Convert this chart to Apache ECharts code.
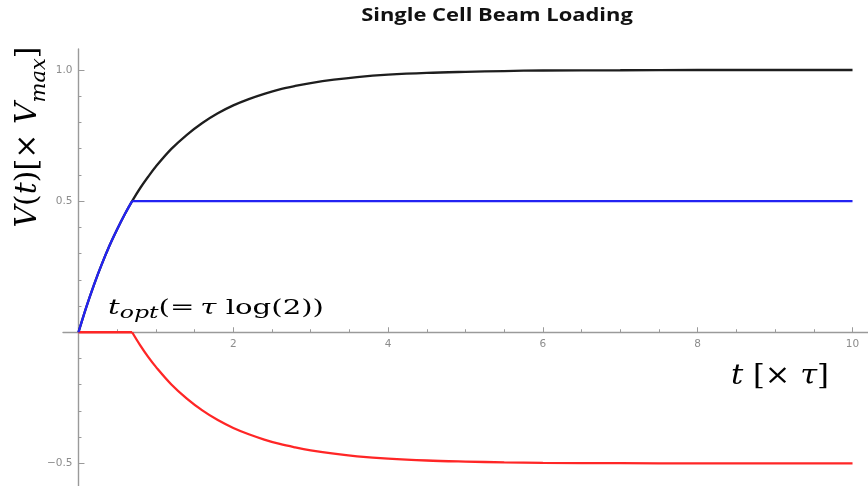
<!DOCTYPE html>
<html>
<head>
<meta charset="utf-8">
<script src="https://cdn.jsdelivr.net/npm/echarts@6/dist/echarts.min.js"></script>
<style>html,body{margin:0;padding:0;background:#fff}#c{width:868px;height:486px}</style>
</head>
<body>
<div id="c"></div>
<script>
// ---- data ----
const tTotal = [0, 0.1, 0.2, 0.3, 0.4, 0.5, 0.6, 0.693, 0.8, 0.9, 1.0, 1.2, 1.4, 1.6, 1.8, 2.0, 2.2, 2.4, 2.6, 2.8, 3.0, 3.3, 3.6, 4.0, 4.5, 5.0, 5.5, 6, 7, 8, 9, 10];
const vTotal = [0, 0.095, 0.181, 0.259, 0.330, 0.393, 0.451, 0.5, 0.551, 0.593, 0.632, 0.699, 0.753, 0.798, 0.835, 0.865, 0.889, 0.909, 0.926, 0.939, 0.950, 0.963, 0.973, 0.982, 0.989, 0.993, 0.996, 0.998, 0.999, 1.0, 1.0, 1.0];

const tBlueRise = [0, 0.1, 0.2, 0.3, 0.4, 0.5, 0.6, 0.693];
const vBlueRise = [0, 0.095, 0.181, 0.259, 0.330, 0.393, 0.451, 0.5];
const tBlueFlat = [0.693, 10];
const vBlueFlat = [0.5, 0.5];

const tRedFlat = [0, 0.693];
const vRedFlat = [0, 0];
const tRedFall = [0.693, 0.8, 0.9, 1.0, 1.2, 1.4, 1.6, 1.8, 2.0, 2.2, 2.4, 2.6, 2.8, 3.0, 3.3, 3.6, 4.0, 4.5, 5.0, 5.5, 6, 7, 8, 9, 10];
const vRedFall = [0, -0.051, -0.094, -0.132, -0.199, -0.253, -0.298, -0.335, -0.365, -0.389, -0.409, -0.426, -0.439, -0.450, -0.463, -0.473, -0.482, -0.489, -0.493, -0.496, -0.498, -0.499, -0.5, -0.5, -0.5];

const xTickValues = [2, 4, 6, 8, 10];
const xTickLabels = ['2', '4', '6', '8', '10'];
const xMinorTicks = [0.5, 1, 1.5, 2.5, 3, 3.5, 4.5, 5, 5.5, 6.5, 7, 7.5, 8.5, 9, 9.5];
const yTickValues = [-0.5, 0.5, 1.0];
const yTickLabels = ['\u22120.5', '0.5', '1.0'];
const yMinorTicks = [-0.4, -0.3, -0.2, -0.1, 0.1, 0.2, 0.3, 0.4, 0.6, 0.7, 0.8, 0.9];

const titleText = 'Single Cell Beam Loading';

// ---- chart ----
const zip = (a, b) => a.map((x, i) => [x, b[i]]);
const axisGray = '#9a9a9a';
const labelGray = '#8c8c8c';

const X_MIN = -0.2, X_MAX = 10.2, Y_MIN = -0.59, Y_MAX = 1.08;
const G_LEFT = 63, G_TOP = 49, G_W = 805, G_H = 438;
// distance of the zero lines from the grid edges (axes cross at the origin)
const xAxisOffset = -(G_H * (0 - Y_MIN) / (Y_MAX - Y_MIN));
const yAxisOffset = -(G_W * (0 - X_MIN) / (X_MAX - X_MIN));

const chart = echarts.init(document.getElementById('c'), null, {renderer: 'canvas'});

function xAxisDef(show, ticks, len, labelVals) {
  return {
    type: 'value', min: X_MIN, max: X_MAX, gridIndex: 0, position: 'bottom', offset: xAxisOffset,
    axisLine: {show: show, onZero: false, lineStyle: {color: axisGray, width: 1.4}},
    axisTick: {show: true, inside: true, length: len, customValues: ticks, lineStyle: {color: axisGray, width: 1}},
    axisLabel: labelVals ? {
      show: true, customValues: labelVals, margin: 7, color: labelGray, fontSize: 10.5, fontFamily: 'DejaVu Sans',
      formatter: v => xTickLabels[xTickValues.indexOf(v)]
    } : {show: false},
    splitLine: {show: false}
  };
}
function yAxisDef(show, ticks, len, labelVals) {
  return {
    type: 'value', min: Y_MIN, max: Y_MAX, gridIndex: 0, position: 'left', offset: yAxisOffset,
    axisLine: {show: show, onZero: false, lineStyle: {color: axisGray, width: 1.4}},
    axisTick: {show: true, inside: true, length: len, customValues: ticks, lineStyle: {color: axisGray, width: 1}},
    axisLabel: labelVals ? {
      show: true, customValues: labelVals, margin: 6, color: labelGray, fontSize: 10.5, fontFamily: 'DejaVu Sans',
      formatter: v => yTickLabels[yTickValues.findIndex(t => Math.abs(t - v) < 1e-9)]
    } : {show: false},
    splitLine: {show: false}
  };
}

const mathFont = 'DejaVu Serif';
const ink = '#1c1c1c';
const rich = (size, subSize, lh) => ({
  n: {fontFamily: mathFont, fontSize: size, lineHeight: lh, color: ink, verticalAlign: 'middle'},
  i: {fontFamily: mathFont, fontStyle: 'italic', fontSize: size, lineHeight: lh, color: ink, verticalAlign: 'middle'},
  s: {fontFamily: mathFont, fontStyle: 'italic', fontSize: subSize, lineHeight: subSize, color: ink, verticalAlign: 'bottom'}
});

const option = {
  animation: false,
  backgroundColor: '#fff',
  grid: {left: G_LEFT, top: G_TOP, width: G_W, height: G_H, containLabel: false, outerBoundsMode: 'none'},
  xAxis: [
    xAxisDef(true, xTickValues, 5, xTickValues),
    xAxisDef(false, xMinorTicks, 3, null)
  ],
  yAxis: [
    yAxisDef(true, yTickValues, 6, yTickValues),
    yAxisDef(false, yMinorTicks, 3, null)
  ],
  series: [
    {type: 'line', data: zip(tTotal, vTotal), smooth: 0.35, showSymbol: false, lineStyle: {color: '#1e1e1e', width: 2.3}, z: 2},
    {type: 'line', data: zip(tRedFlat, vRedFlat), showSymbol: false, lineStyle: {color: '#ff2626', width: 2.3}, z: 3},
    {type: 'line', data: zip(tRedFall, vRedFall), smooth: 0.35, showSymbol: false, lineStyle: {color: '#ff2626', width: 2.3}, z: 3},
    {type: 'line', data: zip(tBlueRise, vBlueRise), smooth: 0.35, showSymbol: false, lineStyle: {color: '#2323f2', width: 2.3}, z: 4},
    {type: 'line', data: zip(tBlueFlat, vBlueFlat), showSymbol: false, lineStyle: {color: '#2323f2', width: 2.3}, z: 4}
  ],
  graphic: [
    {type: 'text', x: 497, y: 16, scaleX: 1.29, z: 10, style: {text: titleText, fontFamily: 'Open Sans', fontWeight: 'bold', fontSize: 17, fill: '#111', align: 'center', verticalAlign: 'middle'}},
    {type: 'text', x: 28, y: 137, rotation: Math.PI / 2, z: 10, style: {
      text: '{i|V}{n|(}{i|t}{n|)[\u00d7 }{i|V}{s|max}{n|]}', rich: rich(30, 21, 44), align: 'center', verticalAlign: 'middle'}},
    {type: 'text', x: 108, y: 309, scaleX: 1.39, z: 10, style: {
      text: '{i|t}{s|opt}{n|(=}{i|\u2009\u03c4}{n| log(2))}', rich: rich(21, 17, 26), align: 'left', verticalAlign: 'middle'}},
    {type: 'text', x: 731, y: 377, scaleX: 1.09, z: 10, style: {
      text: '{i|t}{n| [\u00d7 }{i|\u03c4}{n|]}', rich: rich(28, 20, 40), align: 'left', verticalAlign: 'middle'}}
  ]
};
chart.setOption(option);
</script>
</body>
</html>
